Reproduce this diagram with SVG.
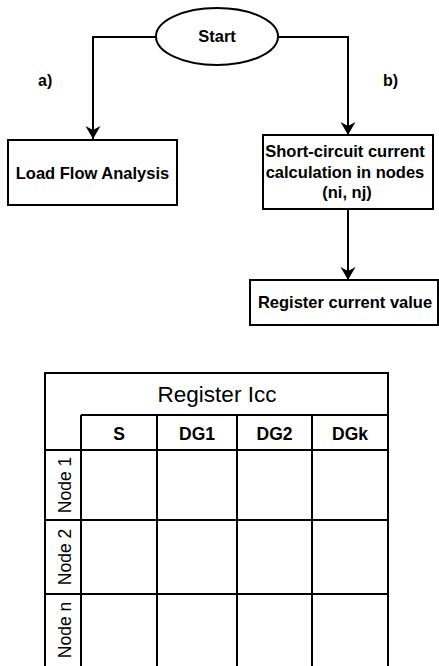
<svg xmlns="http://www.w3.org/2000/svg" width="439" height="666" viewBox="0 0 439 666">
<style>
.box{fill:#fff;stroke:#000;stroke-width:2}
.ln{fill:none;stroke:#000;stroke-width:2}
.fl{font-family:"Liberation Sans",Arial,sans-serif;font-weight:bold;font-size:16.5px;fill:#000;text-anchor:middle}
.tt{font-family:"Liberation Sans",Arial,sans-serif;font-size:22.5px;fill:#000;text-anchor:middle}
.th{font-family:"Liberation Sans",Arial,sans-serif;font-weight:bold;font-size:17.5px;fill:#000;text-anchor:middle}
.tr{font-family:"Liberation Sans",Arial,sans-serif;font-size:17.5px;fill:#000;text-anchor:middle}
.lbl{font-family:"Liberation Sans",Arial,sans-serif;font-weight:bold;font-size:16px;fill:#000}
</style>
<defs>
<marker id="ah" markerUnits="userSpaceOnUse" markerWidth="16" markerHeight="18" viewBox="-14 -9 16 18" refX="0" refY="0" orient="auto">
<path d="M0,0 L-13,-7.5 L-9,0 L-13,7.5 Z" fill="#000"/>
</marker>
</defs>
<rect width="439" height="666" fill="#fff"/>
<g id="connectors">
<polyline class="ln" points="156,37 93,37 93,139" marker-end="url(#ah)"/>
<polyline class="ln" points="278,37 348,37 348,135" marker-end="url(#ah)"/>
<line class="ln" x1="348" y1="209" x2="348" y2="280" marker-end="url(#ah)"/>
<text class="lbl" x="38" y="86">a)</text>
<text class="lbl" x="383" y="86">b)</text>
</g>
<g id="start">
<ellipse class="box" cx="217" cy="36.5" rx="61" ry="28.5"/>
<text class="fl" x="217" y="42">Start</text>
</g>
<g id="load-flow">
<rect class="box" x="8" y="140" width="169" height="65"/>
<text class="fl" x="92.5" y="179">Load Flow Analysis</text>
</g>
<g id="short-circuit">
<rect class="box" x="263" y="135" width="170" height="74"/>
<text class="fl" x="345" y="157">Short-circuit current</text>
<text class="fl" x="345" y="178">calculation in nodes</text>
<text class="fl" x="347" y="198">(ni, nj)</text>
</g>
<g id="register-current">
<rect class="box" x="250" y="280" width="188" height="45"/>
<text class="fl" x="345" y="308">Register current value</text>
</g>
<g id="register-table">
<g class="ln">
<rect x="45" y="373" width="343" height="300"/>
<line x1="81" y1="415" x2="388" y2="415"/>
<line x1="45" y1="450" x2="388" y2="450"/>
<line x1="45" y1="520" x2="388" y2="520"/>
<line x1="45" y1="594" x2="388" y2="594"/>
<line x1="81" y1="415" x2="81" y2="666"/>
<line x1="157" y1="415" x2="157" y2="666"/>
<line x1="237" y1="415" x2="237" y2="666"/>
<line x1="312" y1="415" x2="312" y2="666"/>
</g>
<text class="tt" x="217" y="402">Register Icc</text>
<text class="th" x="119" y="440">S</text>
<text class="th" x="197" y="440">DG1</text>
<text class="th" x="274.5" y="440">DG2</text>
<text class="th" x="350" y="440">DGk</text>
<text class="tr" transform="translate(71,485) rotate(-90)">Node 1</text>
<text class="tr" transform="translate(71,557) rotate(-90)">Node 2</text>
<text class="tr" transform="translate(71,630) rotate(-90)">Node n</text>
</g>
</svg>
